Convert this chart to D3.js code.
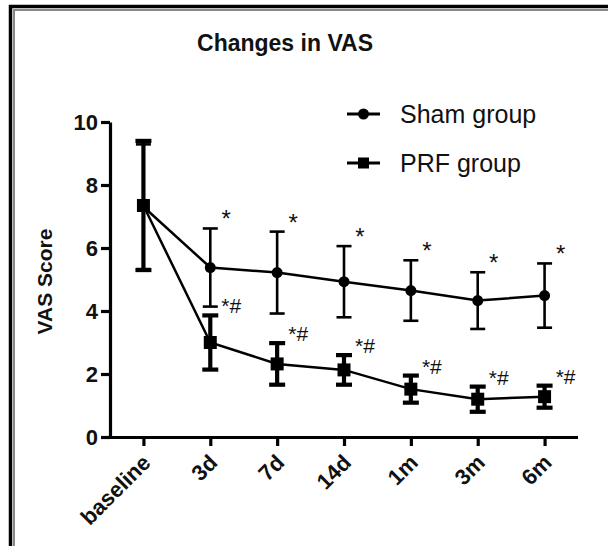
<!DOCTYPE html>
<html>
<head>
<meta charset="utf-8">
<script src="https://cdn.jsdelivr.net/npm/d3@7"></script>
<style>
  body { margin: 0; background: #fff; }
  svg { display: block; font-family: "Liberation Sans", Arial, sans-serif; }
  .axis path, .axis line { stroke: #000; stroke-width: 3.2; }
  .axis text { font-weight: bold; fill: #111; }
</style>
</head>
<body>
<div class="chart"></div>
<script>
"use strict";

// Time points on the x axis
const timePoints = ["baseline", "3d", "7d", "14d", "1m", "3m", "6m"];

// Mean VAS score and SD for each group
const shamMean = [7.31, 5.38, 5.22, 4.93, 4.65, 4.33, 4.49];
const shamSd = [1.98, 1.24, 1.3, 1.13, 0.96, 0.9, 1.02];
const prfMean = [7.35, 3.0, 2.32, 2.13, 1.52, 1.2, 1.28];
const prfSd = [2.05, 0.86, 0.66, 0.47, 0.43, 0.4, 0.35];

// Significance marks
const shamMarks = ["", "*", "*", "*", "*", "*", "*"];
const prfMarks = ["", "*#", "*#", "*#", "*#", "*#", "*#"];

const yTicks = [0, 2, 4, 6, 8, 10];

const width = 608;
const height = 546;

const svg = d3.select(".chart")
  .append("svg")
    .attr("width", width)
    .attr("height", height);

// Frame round the figure (left and top only, as cropped)
svg.append("path")
  .attr("d", `M10.5,${height} V6.5 H${width}`)
  .attr("fill", "none")
  .attr("stroke", "#000")
  .attr("stroke-width", 3.5);
svg.append("path")
  .attr("d", `M14,${height} V10 H${width}`)
  .attr("fill", "none")
  .attr("stroke", "#888")
  .attr("stroke-width", 2);

const xScale = d3.scalePoint()
  .domain(timePoints)
  .range([110, 578])
  .padding(0.5);

const yScale = d3.scaleLinear()
  .domain([0, 10])
  .range([437, 122]);

// Title
svg.append("text")
  .attr("x", 285)
  .attr("y", 51)
  .attr("text-anchor", "middle")
  .attr("font-size", 23)
  .attr("font-weight", "bold")
  .attr("fill", "#111")
  .text("Changes in VAS");

// Axes
const yAxis = d3.axisLeft(yScale)
  .tickValues(yTicks)
  .tickSize(9)
  .tickPadding(3)
  .tickSizeOuter(0);

svg.append("g")
  .attr("class", "axis axis-y")
  .attr("transform", "translate(110, 0)")
  .call(yAxis)
  .call(g => g.selectAll("text").attr("font-size", 22));

const xAxis = d3.axisBottom(xScale)
  .tickSize(9)
  .tickSizeOuter(0);

svg.append("g")
  .attr("class", "axis axis-x")
  .attr("transform", "translate(0, 437)")
  .call(xAxis)
  .call(g => g.select(".domain").attr("d", "M108.5,0.5H578"))
  .call(g => g.selectAll("text")
    .attr("font-size", 22)
    .attr("text-anchor", "end")
    .attr("dy", null)
    .attr("y", 0)
    .attr("transform", "translate(8, 27) rotate(-45)"));

// Y axis title
svg.append("text")
  .attr("transform", `translate(52, ${yScale(5) + 2}) rotate(-90)`)
  .attr("text-anchor", "middle")
  .attr("font-size", 21)
  .attr("font-weight", "bold")
  .attr("fill", "#111")
  .text("VAS Score");

const series = [
  { name: "Sham group", mean: shamMean, sd: shamSd, marks: shamMarks,
    shape: "circle", barWidth: 2.6, capWidth: 15, markSize: 24, markDx: 16, markDy: -1 },
  { name: "PRF group", mean: prfMean, sd: prfSd, marks: prfMarks,
    shape: "square", barWidth: 4.2, capWidth: 16, markSize: 21, markDx: 21, markDy: -2 }
];

const lineGenerator = d3.line()
  .x((d, i) => xScale(timePoints[i]))
  .y(d => yScale(d));

series.forEach(s => {
  const g = svg.append("g");

  // Error bars
  timePoints.forEach((t, i) => {
    const x = xScale(t);
    const top = yScale(s.mean[i] + s.sd[i]);
    const bottom = yScale(s.mean[i] - s.sd[i]);
    g.append("line")
      .attr("x1", x).attr("x2", x)
      .attr("y1", top).attr("y2", bottom)
      .attr("stroke", "#000")
      .attr("stroke-width", s.barWidth);
    [top, bottom].forEach(y => {
      g.append("line")
        .attr("x1", x - s.capWidth / 2).attr("x2", x + s.capWidth / 2)
        .attr("y1", y).attr("y2", y)
        .attr("stroke", "#000")
        .attr("stroke-width", s.barWidth);
    });
    if (s.marks[i]) {
      g.append("text")
        .attr("x", x + s.markDx)
        .attr("y", top + s.markDy)
        .attr("text-anchor", "middle")
        .attr("font-size", s.markSize)
        .attr("fill", "#111")
        .text(s.marks[i]);
    }
  });

  g.append("path")
    .attr("d", lineGenerator(s.mean))
    .attr("fill", "none")
    .attr("stroke", "#000")
    .attr("stroke-width", 2.5);

  timePoints.forEach((t, i) => {
    const x = xScale(t);
    const y = yScale(s.mean[i]);
    if (s.shape === "circle") {
      g.append("circle").attr("cx", x).attr("cy", y).attr("r", 5.5).attr("fill", "#000");
    } else {
      g.append("rect").attr("x", x - 6.5).attr("y", y - 6.5)
        .attr("width", 13).attr("height", 13).attr("fill", "#000");
    }
  });
});

// Legend
const legend = svg.append("g")
  .selectAll("g")
  .data(series)
  .join("g")
    .attr("transform", (d, i) => `translate(347, ${114 + i * 49})`);

legend.append("line")
  .attr("x1", 0).attr("x2", 33)
  .attr("stroke", "#000")
  .attr("stroke-width", 2.8);

legend.filter(d => d.shape === "circle")
  .append("circle")
    .attr("cx", 16.5).attr("r", 5.5).attr("fill", "#000");

legend.filter(d => d.shape === "square")
  .append("rect")
    .attr("x", 11).attr("y", -5.5).attr("width", 11).attr("height", 11).attr("fill", "#000");

legend.append("text")
  .attr("x", 53)
  .attr("y", 8.5)
  .attr("font-size", 25)
  .attr("fill", "#111")
  .text(d => d.name);
</script>
</body>
</html>
